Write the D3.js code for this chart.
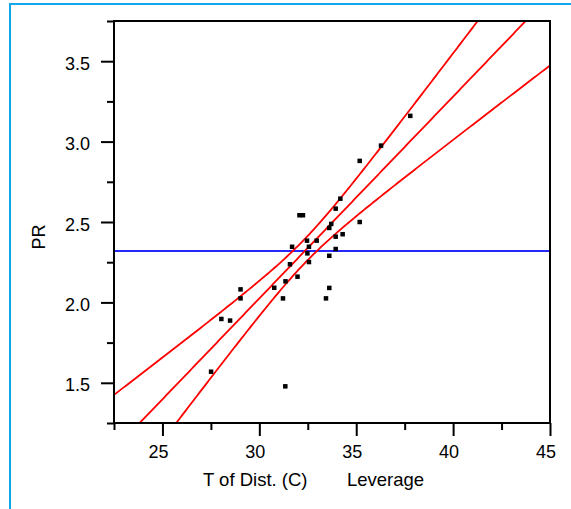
<!DOCTYPE html>
<html>
<head>
<meta charset="utf-8">
<script src="https://cdn.jsdelivr.net/npm/d3@7"></script>
<style>
  body { margin: 0; background: #fff; }
  text { font-family: "Liberation Sans", Arial, sans-serif; fill: #000; }
</style>
</head>
<body>
<div class="chart"></div>
<script>
// points
var ptX = [37.79, 36.28, 35.18, 34.18, 33.94, 32.07, 32.25, 35.18, 33.71, 33.61, 34.30,
           33.94, 32.96, 32.46, 32.56, 31.69, 33.94, 32.48, 33.61, 32.56, 31.58, 31.97,
           31.35, 30.77, 33.61, 29.03, 29.03, 31.22, 33.44, 28.04, 28.49, 27.51, 31.34];
var ptY = [3.16, 2.975, 2.88, 2.645, 2.583, 2.542, 2.542, 2.50, 2.488, 2.463, 2.424,
           2.409, 2.384, 2.384, 2.346, 2.346, 2.332, 2.305, 2.290, 2.251, 2.237, 2.160,
           2.131, 2.091, 2.090, 2.081, 2.025, 2.025, 2.025, 1.897, 1.887, 1.569, 1.478];

var xTicks = [25, 30, 35, 40, 45];
var xMinor = [22.5, 27.5, 32.5, 37.5, 42.5];
var yTicks = [1.5, 2.0, 2.5, 3.0, 3.5];
var yMinor = [1.25, 1.75, 2.25, 2.75, 3.25, 3.75];

// fit as drawn: line through (fitMeanX, fitMeanY), confidence curves around it
var fitMeanX = 32.35, fitMeanY = 2.32, fitSlope = 0.1255;
var bandCenter = 0.075, bandSlope = 0.0338;
var meanLineY = 2.32;

var svg = d3.select('.chart')
  .append('svg')
  .attr('width', 571)
  .attr('height', 509);

// light blue outer frame
svg.append('rect')
  .attr('x', 10).attr('y', 4)
  .attr('width', 620).attr('height', 600)
  .attr('fill', 'none')
  .attr('stroke', '#10a8e8')
  .attr('stroke-width', 2);

var pLeft = 114, pRight = 550, pTop = 21, pBottom = 423;

var x = d3.scaleLinear().domain([22.5, 45]).range([pLeft, pRight]);
var y = d3.scaleLinear().domain([1.25, 3.75]).range([pBottom, pTop]);

svg.append('clipPath').attr('id', 'plot')
  .append('rect')
  .attr('x', pLeft).attr('y', pTop)
  .attr('width', pRight - pLeft).attr('height', pBottom - pTop);

var g = svg.append('g').attr('clip-path', 'url(#plot)');

// mean line
g.append('line')
  .attr('x1', x(22.5)).attr('x2', x(45))
  .attr('y1', y(meanLineY)).attr('y2', y(meanLineY))
  .attr('stroke', '#2626ff')
  .attr('stroke-width', 2);

// fit line + confidence curves
var xs = d3.range(22.5, 45.001, 0.1);
function fitAt(v) { return fitMeanY + fitSlope * (v - fitMeanX); }
function halfW(v) {
  var d = v - fitMeanX;
  return Math.sqrt(bandCenter * bandCenter + bandSlope * bandSlope * d * d);
}
var line = d3.line().x(function(d) { return x(d[0]); }).y(function(d) { return y(d[1]); });
var curves = [
  xs.map(function(v) { return [v, fitAt(v)]; }),
  xs.map(function(v) { return [v, fitAt(v) + halfW(v)]; }),
  xs.map(function(v) { return [v, fitAt(v) - halfW(v)]; })
];
g.selectAll('path.fit')
  .data(curves)
  .enter().append('path')
  .attr('class', 'fit')
  .attr('d', line)
  .attr('fill', 'none')
  .attr('stroke', '#ff0000')
  .attr('stroke-width', 1.8);

// points
g.selectAll('rect.pt')
  .data(ptX)
  .enter().append('rect')
  .attr('class', 'pt')
  .attr('x', function(d) { return x(d) - 2.25; })
  .attr('y', function(d, i) { return y(ptY[i]) - 2.25; })
  .attr('width', 4.5).attr('height', 4.5)
  .attr('fill', '#000');

// plot frame
svg.append('rect')
  .attr('x', pLeft).attr('y', pTop)
  .attr('width', pRight - pLeft).attr('height', pBottom - pTop)
  .attr('fill', 'none')
  .attr('stroke', '#000')
  .attr('stroke-width', 2);

// axes
function styleAxis(sel) {
  sel.select('.domain').remove();
  sel.selectAll('line').attr('stroke', '#000').attr('stroke-width', 2);
  sel.selectAll('text').style('font-size', '18px');
}

svg.append('g')
  .attr('transform', 'translate(0,' + pBottom + ')')
  .call(d3.axisBottom(x).tickValues(xMinor).tickSize(7).tickFormat(''))
  .call(styleAxis);
svg.append('g')
  .attr('transform', 'translate(0,' + pBottom + ')')
  .call(d3.axisBottom(x).tickValues(xTicks).tickSize(13).tickPadding(9).tickFormat(d3.format('d')))
  .call(styleAxis)
  .selectAll('text').attr('dx', -4.5);

svg.append('g')
  .attr('transform', 'translate(' + pLeft + ',0)')
  .call(d3.axisLeft(y).tickValues(yMinor).tickSize(7).tickFormat(''))
  .call(styleAxis);
svg.append('g')
  .attr('transform', 'translate(' + pLeft + ',0)')
  .call(d3.axisLeft(y).tickValues(yTicks).tickSize(13).tickPadding(11).tickFormat(d3.format('.1f')))
  .call(styleAxis)
  .selectAll('text').attr('dy', '0.45em');

// axis titles
svg.append('text').text('T of Dist. (C)')
  .attr('x', 203).attr('y', 486)
  .style('font-size', '18.5px');
svg.append('text').text('Leverage')
  .attr('x', 347).attr('y', 486)
  .style('font-size', '18.5px');
svg.append('text').text('PR')
  .attr('transform', 'translate(45,237) rotate(-90)')
  .attr('text-anchor', 'middle')
  .style('font-size', '18px');
</script>
</body>
</html>
